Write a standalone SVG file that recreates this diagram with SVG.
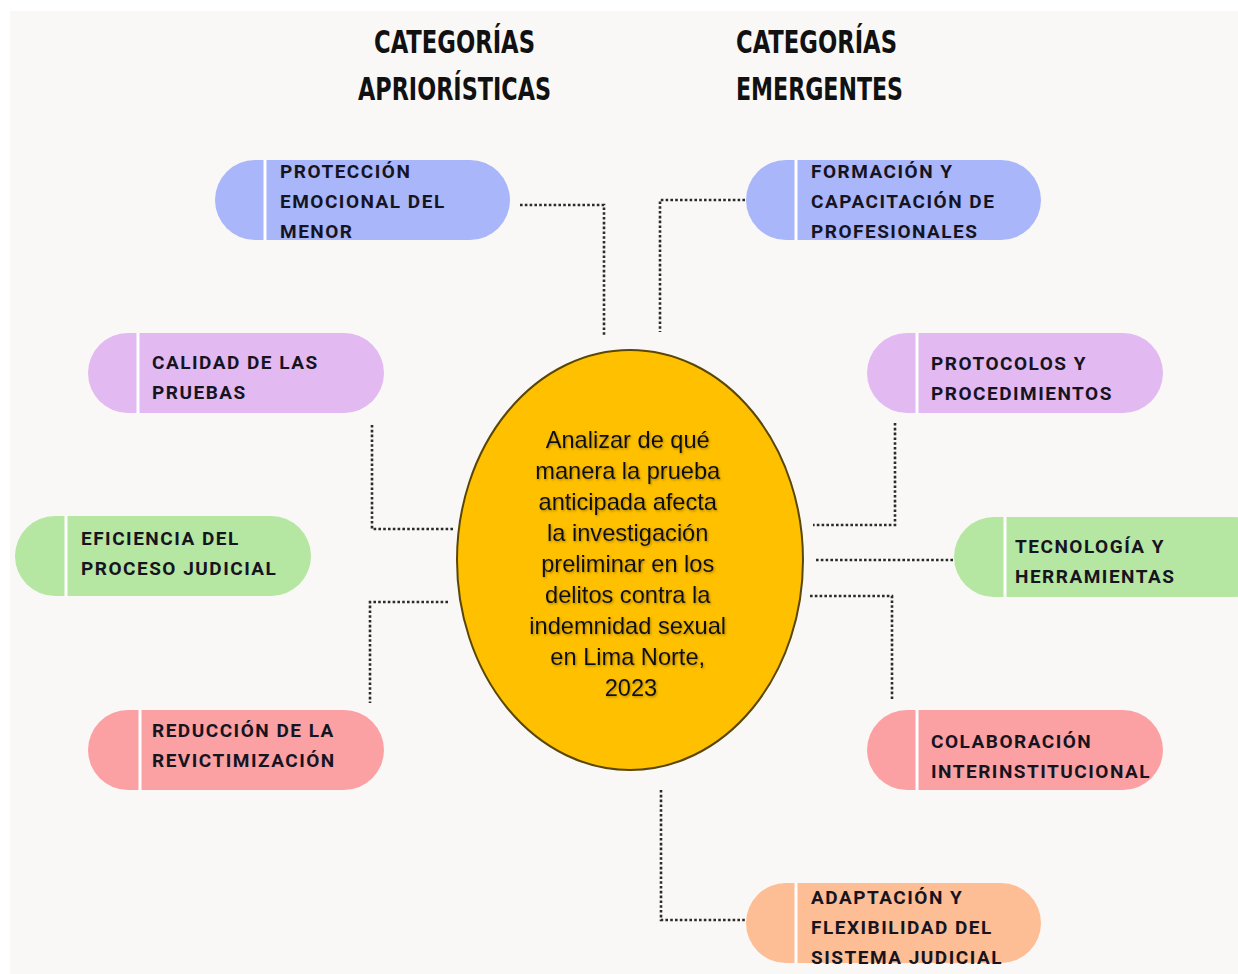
<svg xmlns="http://www.w3.org/2000/svg" width="1238" height="974" viewBox="0 0 1238 974">
<defs>
<style>
.pill{stroke:none}
.div{stroke:#ffffff;stroke-width:3}
.lbl{font-family:Roboto,"Liberation Sans",sans-serif;font-weight:bold;font-size:19px;letter-spacing:1.5px;fill:#16141f}
.title{font-family:"DejaVu Sans Condensed","Liberation Sans Narrow",Roboto,sans-serif;font-weight:bold;font-size:32px;fill:#111}
.conn{fill:none;stroke:#2b2b2b;stroke-width:2.6;stroke-dasharray:2.6 2.2}
.ctext{font-family:"Liberation Sans",Arial,sans-serif;font-size:23.6px;fill:#111;text-anchor:middle}
</style>
<filter id="ts" x="-10%" y="-10%" width="120%" height="130%">
<feDropShadow dx="1" dy="1.2" stdDeviation="0.8" flood-color="#6b5000" flood-opacity="0.55"/>
</filter>
</defs>
<rect x="0" y="0" width="1238" height="974" fill="#ffffff"/>
<rect x="10" y="11" width="1228" height="963" fill="#f9f8f6"/>

<g id="titles">
<text class="title" x="454.5" y="53" text-anchor="middle" textLength="161" lengthAdjust="spacingAndGlyphs">CATEGORÍAS</text>
<text class="title" x="454.5" y="100" text-anchor="middle" textLength="193" lengthAdjust="spacingAndGlyphs">APRIORÍSTICAS</text>
<text class="title" x="736" y="53" textLength="161" lengthAdjust="spacingAndGlyphs">CATEGORÍAS</text>
<text class="title" x="736" y="100" textLength="167" lengthAdjust="spacingAndGlyphs">EMERGENTES</text>
</g>

<g id="connectors">
<path class="conn" d="M520 205 H604 V337"/>
<path class="conn" d="M745 200 H660 V332"/>
<path class="conn" d="M372 425 V529 H455"/>
<path class="conn" d="M448 602 H370 V703"/>
<path class="conn" d="M895 423 V525 H813"/>
<path class="conn" d="M816 560 H953"/>
<path class="conn" d="M810 596 H892 V700"/>
<path class="conn" d="M661 790 V920 H745"/>
</g>

<g id="n-proteccion">
<rect class="pill" x="215" y="160" width="295" height="80" rx="40" fill="#a9b6f9"/>
<line class="div" x1="265" y1="160" x2="265" y2="240"/>
<text class="lbl" x="280"><tspan x="280" y="178">PROTECCIÓN</tspan><tspan x="280" y="208">EMOCIONAL DEL</tspan><tspan x="280" y="238">MENOR</tspan></text>
</g>

<g id="n-formacion">
<rect class="pill" x="746" y="160" width="295" height="80" rx="40" fill="#a9b6f9"/>
<line class="div" x1="796" y1="160" x2="796" y2="240"/>
<text class="lbl" x="811"><tspan x="811" y="178">FORMACIÓN Y</tspan><tspan x="811" y="208">CAPACITACIÓN DE</tspan><tspan x="811" y="238">PROFESIONALES</tspan></text>
</g>

<g id="n-calidad">
<rect class="pill" x="88" y="333" width="296" height="80" rx="40" fill="#e2b9f1"/>
<line class="div" x1="138" y1="333" x2="138" y2="413"/>
<text class="lbl" x="152"><tspan x="152" y="369">CALIDAD DE LAS</tspan><tspan x="152" y="399">PRUEBAS</tspan></text>
</g>

<g id="n-protocolos">
<rect class="pill" x="867" y="333" width="296" height="80" rx="40" fill="#e2b9f1"/>
<line class="div" x1="917" y1="333" x2="917" y2="413"/>
<text class="lbl" x="931"><tspan x="931" y="370">PROTOCOLOS Y</tspan><tspan x="931" y="400">PROCEDIMIENTOS</tspan></text>
</g>

<g id="n-eficiencia">
<rect class="pill" x="15" y="516" width="296" height="80" rx="40" fill="#b5e6a2"/>
<line class="div" x1="66" y1="516" x2="66" y2="596"/>
<text class="lbl" x="81"><tspan x="81" y="545">EFICIENCIA DEL</tspan><tspan x="81" y="575">PROCESO JUDICIAL</tspan></text>
</g>

<g id="n-tecnologia">
<rect class="pill" x="954" y="517" width="320" height="80" rx="40" fill="#b5e6a2"/>
<line class="div" x1="1005" y1="517" x2="1005" y2="597"/>
<text class="lbl" x="1015"><tspan x="1015" y="553">TECNOLOGÍA Y</tspan><tspan x="1015" y="583">HERRAMIENTAS</tspan></text>
</g>

<g id="n-reduccion">
<rect class="pill" x="88" y="710" width="296" height="80" rx="40" fill="#fba1a4"/>
<line class="div" x1="140" y1="710" x2="140" y2="790"/>
<text class="lbl" x="152"><tspan x="152" y="737">REDUCCIÓN DE LA</tspan><tspan x="152" y="767">REVICTIMIZACIÓN</tspan></text>
</g>

<g id="n-colaboracion">
<rect class="pill" x="867" y="710" width="296" height="80" rx="40" fill="#fba1a4"/>
<line class="div" x1="917" y1="710" x2="917" y2="790"/>
<text class="lbl" x="931"><tspan x="931" y="748">COLABORACIÓN</tspan><tspan x="931" y="778">INTERINSTITUCIONAL</tspan></text>
</g>

<g id="n-adaptacion">
<rect class="pill" x="746" y="883" width="295" height="80" rx="40" fill="#fdbd95"/>
<line class="div" x1="796" y1="883" x2="796" y2="963"/>
<text class="lbl" x="811"><tspan x="811" y="904">ADAPTACIÓN Y</tspan><tspan x="811" y="934">FLEXIBILIDAD DEL</tspan><tspan x="811" y="964">SISTEMA JUDICIAL</tspan></text>
</g>

<g id="n-centro">
<ellipse cx="630" cy="560" rx="173" ry="210" fill="#ffc000" stroke="#5a4708" stroke-width="2"/>
<text class="ctext" filter="url(#ts)">
<tspan x="631" y="448">Analizar de qué</tspan>
<tspan x="631" y="479">manera la prueba</tspan>
<tspan x="631" y="510">anticipada afecta</tspan>
<tspan x="631" y="541">la investigación</tspan>
<tspan x="631" y="572">preliminar en los</tspan>
<tspan x="631" y="603">delitos contra la</tspan>
<tspan x="631" y="634">indemnidad sexual</tspan>
<tspan x="631" y="665">en Lima Norte,</tspan>
<tspan x="631" y="696">2023</tspan>
</text>
</g>
</svg>
